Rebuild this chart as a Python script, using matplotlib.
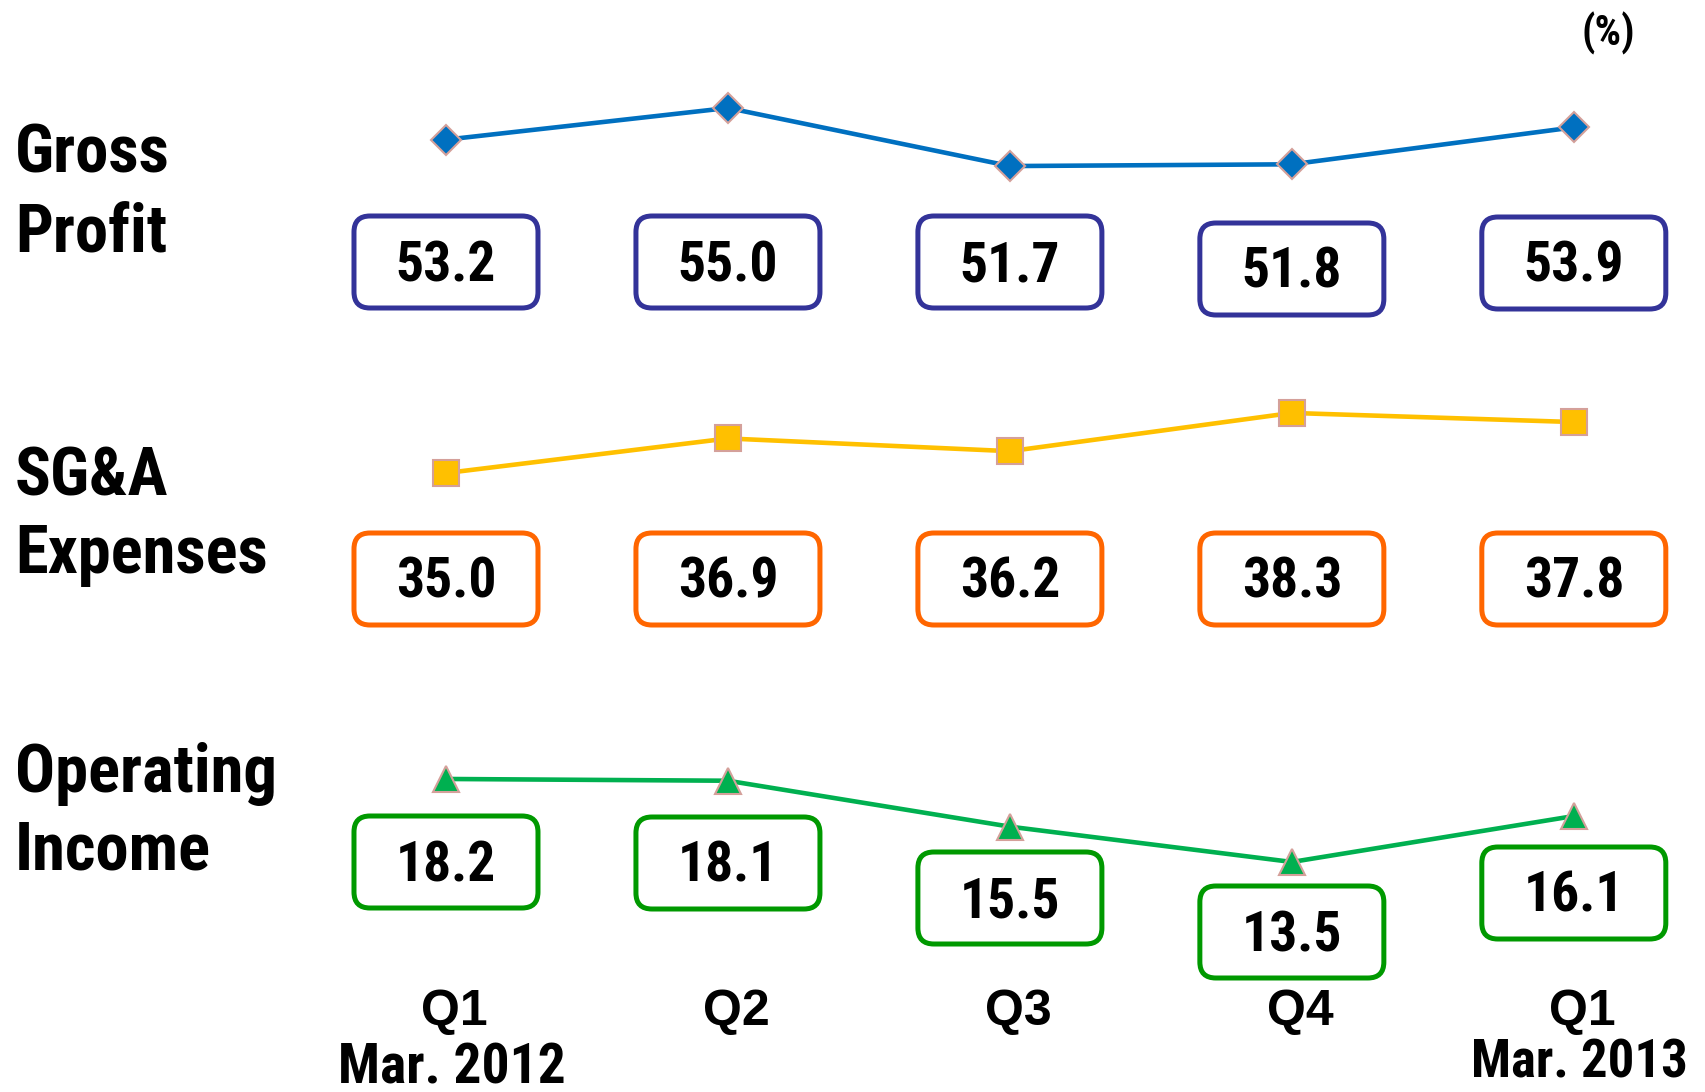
import matplotlib.pyplot as plt
from matplotlib.patches import FancyBboxPatch
from matplotlib.transforms import IdentityTransform

# data
quarters = ["Q1", "Q2", "Q3", "Q4", "Q1"]
year_labels = ["Mar. 2012", "", "", "", "Mar. 2013"]
gross_profit = [53.2, 55.0, 51.7, 51.8, 53.9]
sga_expenses = [35.0, 36.9, 36.2, 38.3, 37.8]
operating_income = [18.2, 18.1, 15.5, 13.5, 16.1]

W, H = 1705, 1092
NARROW = dict(family=["Liberation Sans Narrow", "Roboto Condensed", "DejaVu Sans"],
              fontstretch="condensed", fontweight="bold")
SANS = dict(family=["Liberation Sans", "DejaVu Sans"], fontweight="bold")

fig = plt.figure(figsize=(W / 100, H / 100), dpi=100)

AX_LEFT, AX_WIDTH = 361.4 / W, 1297 / W
BOX_W, BOX_H = 184, 92

# (values, title lines, title rows, band rows, ylim, line colour, marker, size, box edge, box rows)
series = [
    (gross_profit, ["Gross", "Profit"], [155, 233], (80, 190), (50.34, 56.59),
     "#0070C0", "D", 15, "#333399", [262, 262, 262, 269, 263]),
    (sga_expenses, ["SG&A", "Expenses"], [478, 555], (390, 500), (33.52, 39.56),
     "#FFC000", "s", 19, "#FF6600", [579, 579, 579, 579, 579]),
    (operating_income, ["Operating", "Income"], [774, 851], (750, 880), (12.48, 19.84),
     "#00B050", "^", 19, "#009900", [862, 863, 898, 932, 893]),
]

x = list(range(len(quarters)))
ax = None
for values, title, title_rows, (top, bottom), ylim, color, marker, ms, edge, box_rows in series:
    ax = fig.add_axes([AX_LEFT, 1 - bottom / H, AX_WIDTH, (bottom - top) / H])
    ax.plot(x, values, color=color, lw=3.3, marker=marker, ms=ms,
            mfc=color, mec="#D4A09A", mew=1.5, clip_on=False)
    ax.set_xlim(-0.3, 4.3)
    ax.set_ylim(*ylim)
    ax.axis("off")

    for line, row in zip(title, title_rows):
        fig.text(15 / W, 1 - row / H, line, fontsize=48, va="center", ha="left", **NARROW)

    for i, (v, row) in enumerate(zip(values, box_rows)):
        cx = ax.transData.transform((i, 0))[0]
        cy = H - row
        fig.add_artist(FancyBboxPatch(
            (cx - BOX_W / 2, cy - BOX_H / 2), BOX_W, BOX_H,
            boxstyle="round,pad=0,rounding_size=16", transform=IdentityTransform(),
            fc="white", ec=edge, lw=3.6))
        fig.text(cx / W, (cy - 4) / H, f"{v:.1f}", fontsize=40,
                 ha="center", va="center", **NARROW)

# quarter labels along the bottom, placed on the last axes' x scale
year_rows = [1069, None, None, None, 1063]
year_sizes = [40, None, None, None, 38]
for i, (q, yr) in enumerate(zip(quarters, year_labels)):
    ax.annotate(q, xy=(i + 0.03, 1 - 1012 / H), xycoords=("data", "figure fraction"),
                fontsize=36, ha="center", va="center", **SANS)
    if yr:
        ax.annotate(yr, xy=(i + 0.02, 1 - year_rows[i] / H),
                    xycoords=("data", "figure fraction"),
                    fontsize=year_sizes[i], ha="center", va="center", **NARROW)

fig.text(1608 / W, 1 - 33 / H, "(%)", fontsize=30, ha="center", va="center", **NARROW)

fig.savefig("out.png", dpi=100)
